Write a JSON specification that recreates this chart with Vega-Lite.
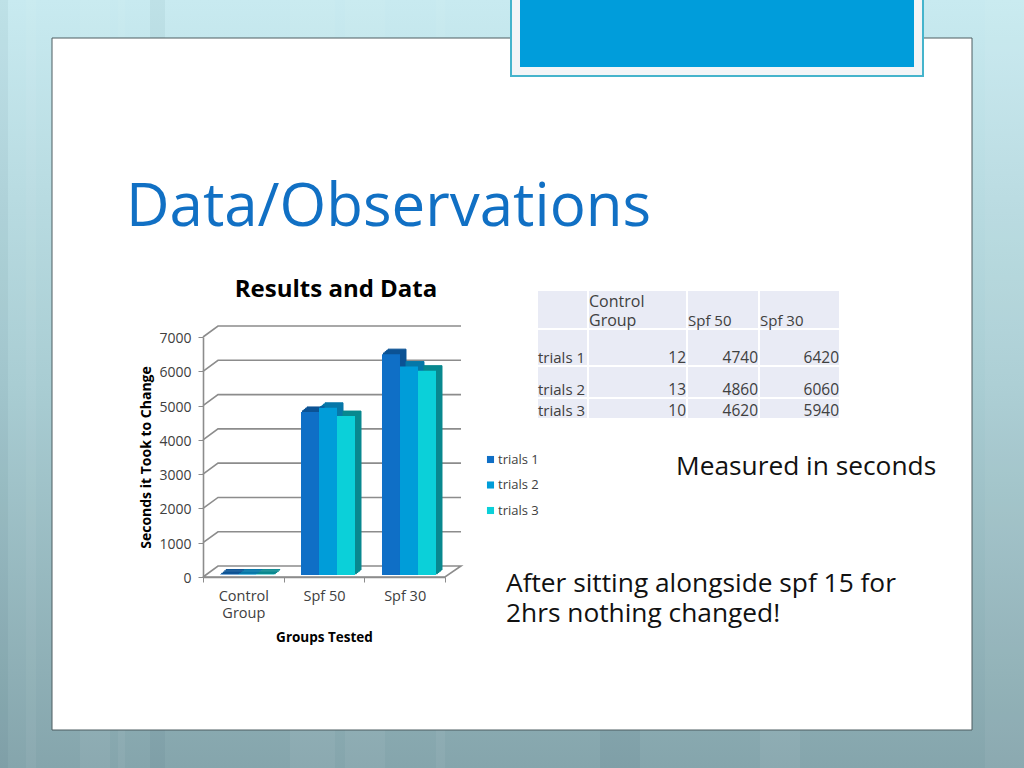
{
"$schema":"https://vega.github.io/schema/vega-lite/v6.json",
"width":1024,"height":768,"padding":0,"autosize":"none",
"background":"#a8ccd2",
"title":{"text":"Data/Observations","anchor":"start","dx":126,"dy":294,"offset":0,"font":"Open Sans","fontSize":60,"fontWeight":"normal","color":"#1170c4"},
"config":{"view":{"stroke":null},"font":"Open Sans","axis":{"labelFont":"Open Sans","titleFont":"Open Sans"},"legend":{"labelFont":"Open Sans"}},
"datasets":{
"bars":[
{"group":"Control Group","series":"trials 1","seconds":12},{"group":"Control Group","series":"trials 2","seconds":13},{"group":"Control Group","series":"trials 3","seconds":10},
{"group":"Spf 50","series":"trials 1","seconds":4740},{"group":"Spf 50","series":"trials 2","seconds":4860},{"group":"Spf 50","series":"trials 3","seconds":4620},
{"group":"Spf 30","series":"trials 1","seconds":6420},{"group":"Spf 30","series":"trials 2","seconds":6060},{"group":"Spf 30","series":"trials 3","seconds":5940}],
"gridlines":[
{"tick":0,"stage":0,"order":0,"level":0},{"tick":0,"stage":1,"order":1,"level":320},{"tick":0,"stage":2,"order":2,"level":320},{"tick":0,"stage":3,"order":3,"level":0},{"tick":0,"stage":0,"order":4,"level":0},
{"tick":1000,"stage":0,"order":0,"level":1000},{"tick":1000,"stage":1,"order":1,"level":1320},{"tick":1000,"stage":2,"order":2,"level":1320},
{"tick":2000,"stage":0,"order":0,"level":2000},{"tick":2000,"stage":1,"order":1,"level":2320},{"tick":2000,"stage":2,"order":2,"level":2320},
{"tick":3000,"stage":0,"order":0,"level":3000},{"tick":3000,"stage":1,"order":1,"level":3320},{"tick":3000,"stage":2,"order":2,"level":3320},
{"tick":4000,"stage":0,"order":0,"level":4000},{"tick":4000,"stage":1,"order":1,"level":4320},{"tick":4000,"stage":2,"order":2,"level":4320},
{"tick":5000,"stage":0,"order":0,"level":5000},{"tick":5000,"stage":1,"order":1,"level":5320},{"tick":5000,"stage":2,"order":2,"level":5320},
{"tick":6000,"stage":0,"order":0,"level":6000},{"tick":6000,"stage":1,"order":1,"level":6320},{"tick":6000,"stage":2,"order":2,"level":6320},
{"tick":7000,"stage":0,"order":0,"level":7000},{"tick":7000,"stage":1,"order":1,"level":7320},{"tick":7000,"stage":2,"order":2,"level":7320}],
"cells":[
{"r":0,"re":1,"c":0,"ce":1,"label":""},{"r":0,"re":1,"c":1,"ce":2,"label":"Control\nGroup"},{"r":0,"re":1,"c":2,"ce":3,"label":"Spf 50"},{"r":0,"re":1,"c":3,"ce":4,"label":"Spf 30"},
{"r":1,"re":2,"c":0,"ce":1,"label":"trials 1"},{"r":1,"re":2,"c":1,"ce":2,"number":12},{"r":1,"re":2,"c":2,"ce":3,"number":4740},{"r":1,"re":2,"c":3,"ce":4,"number":6420},
{"r":2,"re":3,"c":0,"ce":1,"label":"trials 2"},{"r":2,"re":3,"c":1,"ce":2,"number":13},{"r":2,"re":3,"c":2,"ce":3,"number":4860},{"r":2,"re":3,"c":3,"ce":4,"number":6060},
{"r":3,"re":4,"c":0,"ce":1,"label":"trials 3"},{"r":3,"re":4,"c":1,"ce":2,"number":10},{"r":3,"re":4,"c":2,"ce":3,"number":4620},{"r":3,"re":4,"c":3,"ce":4,"number":5940}],
"notes":[{"slot":0,"note":"Measured in seconds"},{"slot":1,"note":"After sitting alongside spf 15  for\n2hrs nothing changed!"}],
"stripes":[{"from":0,"to":1,"tone":"dark"},{"from":2,"to":3,"tone":"light"},{"from":4,"to":5,"tone":"light"},{"from":6,"to":7,"tone":"light"},{"from":8,"to":9,"tone":"dark"},{"from":10,"to":11,"tone":"light"},{"from":12,"to":13,"tone":"light"},{"from":14,"to":15,"tone":"light"},{"from":16,"to":17,"tone":"dark"},{"from":18,"to":19,"tone":"light"},{"from":20,"to":21,"tone":"light"}]
},
"resolve":{"scale":{"x":"independent","y":"independent","xOffset":"independent","color":"independent"},"axis":{"x":"independent","y":"independent"}},
"layer":[
{"data":{"values":[{"part":"backdrop"}]},
 "mark":{"type":"rect","fill":{"gradient":"linear","x1":0,"y1":0,"x2":0,"y2":1,"stops":[{"offset":0,"color":"#c8eaf0"},{"offset":0.5,"color":"#a9cdd3"},{"offset":1,"color":"#85a5ac"}]}},
 "encoding":{"x":{"datum":0,"type":"quantitative","scale":{"domain":[0,1],"range":[0,1024]},"axis":null},"x2":{"datum":1},"y":{"datum":0,"type":"quantitative","scale":{"domain":[0,1],"range":[0,768]},"axis":null},"y2":{"datum":1}}},
{"data":{"name":"stripes"},
 "mark":{"type":"rect","opacity":0.05},
 "encoding":{"x":{"field":"from","type":"quantitative","scale":{"domain":[0,1,2,3,4,5,6,7,8,9,10,11,12,13,14,15,16,17,18,19,20,21],"range":[0,8,26,36,80,110,118,125,150,165,290,335,345,385,436,445,600,640,760,800,985,1024]},"axis":null},"x2":{"field":"to"},
  "y":{"datum":0,"type":"quantitative","scale":{"domain":[0,1],"range":[0,768]},"axis":null},"y2":{"datum":1},
  "color":{"field":"tone","type":"nominal","scale":{"domain":["light","dark"],"range":["#ffffff","#1d3d45"]},"legend":null}}},
{"data":{"values":[{"part":"card"}]},
 "mark":{"type":"rect","fill":"#ffffff","stroke":"#4d5c60","strokeWidth":1},
 "encoding":{"x":{"datum":0,"type":"quantitative","scale":{"domain":[0,1],"range":[52,972]},"axis":null},"x2":{"datum":1},"y":{"datum":0,"type":"quantitative","scale":{"domain":[0,1],"range":[38,730]},"axis":null},"y2":{"datum":1}}},
{"data":{"values":[{"part":"tab frame"}]},
 "mark":{"type":"rect","fill":"#f3f5f7","stroke":"#45b4cc","strokeWidth":2},
 "encoding":{"x":{"datum":0,"type":"quantitative","scale":{"domain":[0,1],"range":[511,923]},"axis":null},"x2":{"datum":1},"y":{"datum":0,"type":"quantitative","scale":{"domain":[0,1],"range":[-5,76]},"axis":null},"y2":{"datum":1}}},
{"data":{"values":[{"part":"tab"}]},
 "mark":{"type":"rect","fill":"#009ddb"},
 "encoding":{"x":{"datum":0,"type":"quantitative","scale":{"domain":[0,1],"range":[520,914]},"axis":null},"x2":{"datum":1},"y":{"datum":0,"type":"quantitative","scale":{"domain":[0,1],"range":[-5,67]},"axis":null},"y2":{"datum":1}}},
{"data":{"name":"gridlines"},
 "mark":{"type":"line","color":"#8c8c8c","strokeWidth":1.6,"interpolate":"linear"},
 "encoding":{"x":{"field":"stage","type":"quantitative","scale":{"domain":[0,1,2,3],"range":[203,218,461,445]},"axis":null},
  "y":{"field":"level","type":"quantitative","scale":{"domain":[0,7000],"range":[577,337],"nice":false},"axis":null},
  "detail":{"field":"tick","type":"nominal"},"order":{"field":"order","type":"quantitative"}}},
{"data":{"name":"bars"},
 "mark":{"type":"bar","opacity":0},
 "encoding":{"x":{"field":"group","type":"nominal","sort":["Control Group","Spf 50","Spf 30"],"scale":{"range":[203,445],"paddingInner":0,"paddingOuter":0},
   "axis":{"orient":"bottom","offset":-191,"zindex":1,"title":"Groups Tested","titleFontSize":13.5,"titleFontWeight":"bold","titleColor":"#000000","titlePadding":11,"labelAngle":0,"labelFontSize":14.5,"labelColor":"#404040","labelPadding":7,"labelLineHeight":17,"labelExpr":"datum.label=='Control Group'?split(datum.label,' '):datum.label","tickBand":"extent","tickColor":"#8c8c8c","domainColor":"#8c8c8c","domainWidth":1.6,"tickSize":5,"grid":false}},
  "y":{"field":"seconds","type":"quantitative","scale":{"domain":[0,7000],"range":[577,337],"nice":false},
   "axis":{"orient":"left","offset":-203,"zindex":1,"title":"Seconds it Took to Change","titleFontSize":14,"titleFontWeight":"bold","titleColor":"#000000","titlePadding":5,"values":[0,1000,2000,3000,4000,5000,6000,7000],"labelFontSize":14,"labelColor":"#404040","labelPadding":7,"labelOffset":1.5,"tickColor":"#8c8c8c","domainColor":"#8c8c8c","domainWidth":1.6,"tickSize":5,"grid":false,"format":"d"}}}},
{"data":{"name":"bars"},"mark":{"type":"bar","strokeWidth":1},
 "encoding":{"x":{"field":"group","type":"nominal","sort":["Control Group","Spf 50","Spf 30"],"scale":{"range":[208,451],"paddingInner":0.3333,"paddingOuter":0.1667},"axis":null},
  "xOffset":{"field":"series","type":"nominal","scale":{"paddingInner":0,"paddingOuter":0}},
  "y":{"field":"seconds","type":"quantitative","scale":{"domain":[0,7000],"range":[573.75,332.95],"nice":false},"axis":null},
  "color":{"field":"series","type":"nominal","scale":{"domain":["trials 1","trials 2","trials 3"],"range":["#0b5294","#0677a8","#08888f"]},"legend":null},
  "stroke":{"field":"series","type":"nominal","scale":{"domain":["trials 1","trials 2","trials 3"],"range":["#0b5294","#0677a8","#08888f"]},"legend":null}}},
{"data":{"name":"bars"},"mark":{"type":"bar","strokeWidth":1},
 "encoding":{"x":{"field":"group","type":"nominal","sort":["Control Group","Spf 50","Spf 30"],"scale":{"range":[209.5,452.5],"paddingInner":0.3333,"paddingOuter":0.1667},"axis":null},
  "xOffset":{"field":"series","type":"nominal","scale":{"paddingInner":0,"paddingOuter":0}},
  "y":{"field":"seconds","type":"quantitative","scale":{"domain":[0,7000],"range":[572.5,331.7],"nice":false},"axis":null},
  "color":{"field":"series","type":"nominal","scale":{"domain":["trials 1","trials 2","trials 3"],"range":["#0b5294","#0677a8","#08888f"]},"legend":null},
  "stroke":{"field":"series","type":"nominal","scale":{"domain":["trials 1","trials 2","trials 3"],"range":["#0b5294","#0677a8","#08888f"]},"legend":null}}},
{"data":{"name":"bars"},"mark":{"type":"bar","strokeWidth":1},
 "encoding":{"x":{"field":"group","type":"nominal","sort":["Control Group","Spf 50","Spf 30"],"scale":{"range":[211,454],"paddingInner":0.3333,"paddingOuter":0.1667},"axis":null},
  "xOffset":{"field":"series","type":"nominal","scale":{"paddingInner":0,"paddingOuter":0}},
  "y":{"field":"seconds","type":"quantitative","scale":{"domain":[0,7000],"range":[571.25,330.45],"nice":false},"axis":null},
  "color":{"field":"series","type":"nominal","scale":{"domain":["trials 1","trials 2","trials 3"],"range":["#0b5294","#0677a8","#08888f"]},"legend":null},
  "stroke":{"field":"series","type":"nominal","scale":{"domain":["trials 1","trials 2","trials 3"],"range":["#0b5294","#0677a8","#08888f"]},"legend":null}}},
{"data":{"name":"bars"},"mark":{"type":"bar","strokeWidth":1},
 "encoding":{"x":{"field":"group","type":"nominal","sort":["Control Group","Spf 50","Spf 30"],"scale":{"range":[212.5,455.5],"paddingInner":0.3333,"paddingOuter":0.1667},"axis":null},
  "xOffset":{"field":"series","type":"nominal","scale":{"paddingInner":0,"paddingOuter":0}},
  "y":{"field":"seconds","type":"quantitative","scale":{"domain":[0,7000],"range":[570,329.2],"nice":false},"axis":null},
  "color":{"field":"series","type":"nominal","scale":{"domain":["trials 1","trials 2","trials 3"],"range":["#0b5294","#0677a8","#08888f"]},"legend":null},
  "stroke":{"field":"series","type":"nominal","scale":{"domain":["trials 1","trials 2","trials 3"],"range":["#0b5294","#0677a8","#08888f"]},"legend":null}}},
{"data":{"name":"bars"},"mark":{"type":"bar"},
 "encoding":{"x":{"field":"group","type":"nominal","sort":["Control Group","Spf 50","Spf 30"],"scale":{"range":[206.5,449.5],"paddingInner":0.3333,"paddingOuter":0.1667},"axis":null},
  "xOffset":{"field":"series","type":"nominal","scale":{"paddingInner":0,"paddingOuter":0}},
  "y":{"field":"seconds","type":"quantitative","scale":{"domain":[0,7000],"range":[575,334.2],"nice":false},"axis":null},
  "color":{"field":"series","type":"nominal","scale":{"domain":["trials 1","trials 2","trials 3"],"range":["#0f6fc6","#009dd9","#0bd0d9"]},
   "legend":{"orient":"none","legendX":484,"legendY":453,"title":null,"symbolType":"square","symbolSize":50,"labelFontSize":13,"labelColor":"#404040","rowPadding":11.5,"labelOffset":1}}}},
{"data":{"name":"cells"},
 "mark":{"type":"rect","fill":"#e9ebf5","stroke":"#ffffff","strokeWidth":2},
 "encoding":{"x":{"field":"c","type":"quantitative","scale":{"domain":[0,1,2,3,4],"range":[537,588,687,759,840]},"axis":null},"x2":{"field":"ce"},
  "y":{"field":"r","type":"quantitative","scale":{"domain":[0,1,2,3,4],"range":[290,329,366,398,419]},"axis":null},"y2":{"field":"re"}}},
{"data":{"name":"cells"},
 "transform":[{"filter":"isValid(datum.number)"}],
 "mark":{"type":"text","align":"right","baseline":"bottom","fontSize":15.5,"color":"#404040","dx":-1},
 "encoding":{"x":{"field":"ce","type":"quantitative","scale":{"domain":[0,1,2,3,4],"range":[537,588,687,759,840]},"axis":null},
  "y":{"field":"re","type":"quantitative","scale":{"domain":[0,1,2,3,4],"range":[290,329,366,398,419]},"axis":null},
  "text":{"field":"number","type":"quantitative"}}},
{"data":{"name":"cells"},
 "transform":[{"filter":"isValid(datum.label) && indexof(datum.label,'Control')<0"}],
 "mark":{"type":"text","align":"left","baseline":"bottom","fontSize":15,"color":"#404040","dx":1},
 "encoding":{"x":{"field":"c","type":"quantitative","scale":{"domain":[0,1,2,3,4],"range":[537,588,687,759,840]},"axis":null},
  "y":{"field":"re","type":"quantitative","scale":{"domain":[0,1,2,3,4],"range":[290,329,366,398,419]},"axis":null},
  "text":{"field":"label","type":"nominal"}}},
{"data":{"name":"cells"},
 "transform":[{"filter":"isValid(datum.label) && indexof(datum.label,'Control')>=0"}],
 "mark":{"type":"text","align":"left","baseline":"bottom","fontSize":16,"color":"#404040","dx":1,"dy":-19,"lineBreak":"\n","lineHeight":19},
 "encoding":{"x":{"field":"c","type":"quantitative","scale":{"domain":[0,1,2,3,4],"range":[537,588,687,759,840]},"axis":null},
  "y":{"field":"re","type":"quantitative","scale":{"domain":[0,1,2,3,4],"range":[290,329,366,398,419]},"axis":null},
  "text":{"field":"label","type":"nominal"}}},
{"data":{"values":[{"caption":"Results and Data"}]},
 "mark":{"type":"text","fontSize":24,"fontWeight":"bold","color":"#000000","align":"center","baseline":"middle"},
 "encoding":{"x":{"field":"caption","type":"nominal","scale":{"range":[336,336]},"axis":null},"y":{"field":"caption","type":"nominal","scale":{"range":[290,290]},"axis":null},"text":{"field":"caption","type":"nominal"}}},
{"data":{"name":"notes"},
 "mark":{"type":"text","fontSize":26.3,"color":"#111111","align":"left","baseline":"middle","lineBreak":"\n","lineHeight":30},
 "encoding":{"x":{"field":"slot","type":"quantitative","scale":{"domain":[0,1],"range":[676,506]},"axis":null},
  "y":{"field":"slot","type":"quantitative","scale":{"domain":[0,1],"range":[467,584]},"axis":null},
  "text":{"field":"note","type":"nominal"}}}
]
}
